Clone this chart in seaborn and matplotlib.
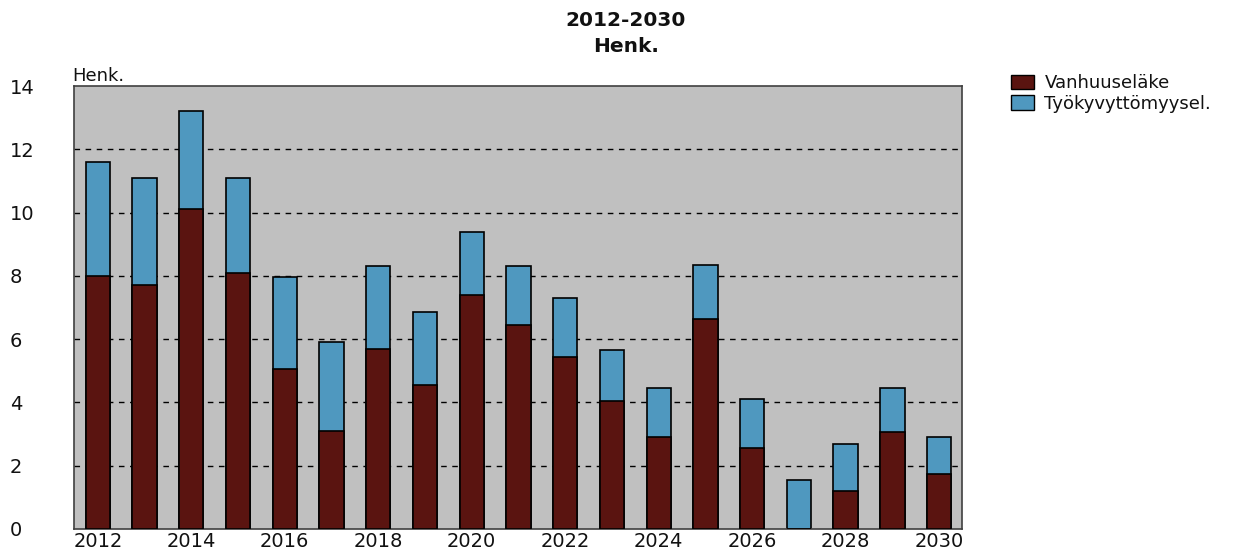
import matplotlib
matplotlib.use('Agg')
import matplotlib.pyplot as plt
import seaborn as sns
import pandas as pd
from matplotlib.patches import Patch

# Data (Henk.)
years = list(range(2012, 2031))
vanhuus = [8.0, 7.7, 10.1, 8.1, 5.05, 3.1, 5.7, 4.55, 7.4, 6.45, 5.45, 4.05, 2.9, 6.65, 2.55, 0.0, 1.2, 3.05, 1.75]
tyokyvyt = [3.6, 3.4, 3.1, 3.0, 2.9, 2.8, 2.6, 2.3, 2.0, 1.85, 1.85, 1.6, 1.55, 1.7, 1.55, 1.55, 1.5, 1.4, 1.15]

df = pd.DataFrame({'year': [str(y) for y in years], 'vanhuus': vanhuus, 'tyokyvyt': tyokyvyt})
df['total'] = df['vanhuus'] + df['tyokyvyt']

red = '#5a1410'
blue = '#4f98bf'

sns.set_style('white')
plt.rcParams['font.family'] = ['DejaVu Sans']

fig = plt.figure(figsize=(12.56, 5.5), dpi=100)
ax = fig.add_axes([74 / 1256, 1 - 529 / 550, (962 - 74) / 1256, (529 - 86) / 550])
ax.set_facecolor('#c0c0c0')

# Grid lines
for v in [2, 4, 6, 8, 10, 12]:
    ax.axhline(v, color='black', linestyle=(0, (4, 4)), linewidth=1, zorder=0.5)

# Stacked bars: total (blue) first, then the red part on top of it
sns.barplot(data=df, x='year', y='total', color=blue, width=0.52, edgecolor='black',
            linewidth=1.2, saturation=1, ax=ax, zorder=2)
sns.barplot(data=df, x='year', y='vanhuus', color=red, width=0.52, edgecolor='black',
            linewidth=1.2, saturation=1, ax=ax, zorder=3)

ax.set_xlim(-0.51, 18.49)
ax.set_ylim(0, 14)
ax.set_xlabel('')
ax.set_ylabel('')

ax.set_xticks(range(0, 19, 2))
ax.set_xticklabels([str(y) for y in years[::2]], fontsize=14, color='#111111')
ax.set_yticks(range(0, 15, 2))
ax.set_yticklabels([str(v) for v in range(0, 15, 2)], fontsize=14, ha='left', color='#111111')
ax.tick_params(axis='x', length=0, pad=2)
ax.tick_params(axis='y', length=0, pad=46)

for s in ax.spines.values():
    s.set_color('#404040')
    s.set_linewidth(1.2)

fig.text(72 / 1256, 1 - 81 / 550, 'Henk.', fontsize=13, ha='left', va='baseline', color='#111111')

fig.suptitle('2012-2030\nHenk.', fontsize=14.5, fontweight='bold', x=626 / 1256,
             y=1 - 11 / 550, va='top', linespacing=1.45, color='#111111')

handles = [Patch(facecolor=red, edgecolor='black', label='Vanhuuseläke'),
           Patch(facecolor=blue, edgecolor='black', label='Työkyvyttömyysel.')]
fig.legend(handles=handles, loc='upper left', bbox_to_anchor=(1011 / 1256, 1 - 74 / 550),
           frameon=False, fontsize=13, handlelength=1.25, handleheight=0.85,
           handletextpad=0.6, labelspacing=0.15, borderaxespad=0, borderpad=0,
           labelcolor='#111111')

fig.savefig('out.png', dpi=100)
